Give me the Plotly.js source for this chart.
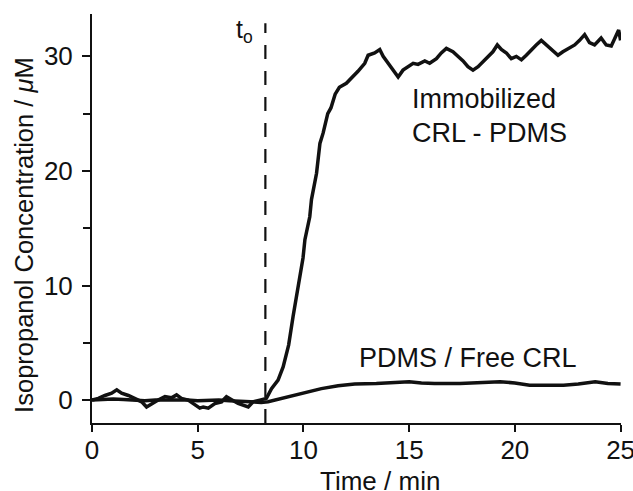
<!DOCTYPE html>
<html>
<head>
<meta charset="utf-8">
<script src="https://cdn.plot.ly/plotly-3.0.1.min.js"></script>
<style>html,body{margin:0;padding:0;background:#fff;}#chart{width:633px;height:491px;}</style>
</head>
<body>
<div id="chart"></div>
<script>
// Immobilized CRL - PDMS
const immTime = [0, 0.3, 0.61, 0.93, 1.17, 1.4, 1.72, 2.03, 2.35, 2.58, 2.82, 3.13, 3.45, 3.76, 4.0, 4.23, 4.55, 4.87, 5.1, 5.26, 5.5, 5.81, 6.13, 6.36, 6.6, 6.91, 7.39, 7.62, 7.94, 8.25,
  8.49, 8.8, 9.04, 9.3, 9.51, 9.75, 9.98, 10.07, 10.3, 10.38, 10.62, 10.78, 10.93, 11.15, 11.3, 11.5, 11.7, 12.03, 12.27, 12.58, 12.9, 13.06, 13.37, 13.61, 13.77, 14.0, 14.24, 14.48, 14.71, 14.95,
  15.19, 15.42, 15.74, 15.97, 16.29, 16.52, 16.76, 17.07, 17.31, 17.55, 17.78, 18.02, 18.26, 18.41, 18.73, 18.96, 19.17, 19.36, 19.6, 19.83, 20.07, 20.31, 20.54, 20.78, 21.01, 21.25, 21.49, 21.72,
  22.04, 22.27, 22.59, 22.83, 23.06, 23.3, 23.53, 23.77, 24.08, 24.32, 24.56, 24.72, 24.91, 25.0];
const immConc = [0, 0.15, 0.4, 0.6, 0.9, 0.6, 0.4, 0.1, -0.15, -0.6, -0.3, 0, 0.3, 0.2, 0.45, 0.15, 0, -0.45, -0.7, -0.6, -0.7, -0.3, -0.15, 0.3, 0, -0.3, -0.6, -0.15, 0, 0.15,
  1.0, 1.75, 2.9, 4.8, 7.3, 9.8, 12.4, 14.0, 16.0, 17.5, 19.8, 22.4, 23.3, 25.0, 25.5, 26.7, 27.3, 27.65, 28.1, 28.7, 29.4, 30.1, 30.3, 30.6, 30.0, 29.4, 28.7, 28.2, 28.8, 29.1,
  29.4, 29.3, 29.6, 29.4, 29.8, 30.3, 30.7, 30.4, 30.0, 29.6, 29.1, 28.8, 29.1, 29.4, 30.0, 30.4, 31.0, 30.6, 30.3, 29.8, 30.0, 29.7, 30.1, 30.6, 31.0, 31.4, 31.0, 30.6,
  30.1, 30.4, 30.7, 31.0, 31.4, 31.9, 31.2, 31.0, 31.6, 31.0, 30.9, 31.6, 32.3, 31.4];

// PDMS / Free CRL
const freeTime = [0, 0.5, 1, 1.5, 2, 2.5, 3, 3.5, 4, 4.5, 5, 5.5, 6, 6.5, 7, 7.5, 8, 8.33, 8.65, 9.28, 10.07, 10.85, 11.64, 12.43, 13.45, 14.0, 15.0, 15.58, 16.2, 17.4, 18.5, 19.3, 20.0, 20.7, 21.5, 22.3, 23.0, 23.8, 24.4, 25.0];
const freeConc = [0, 0.05, 0.1, 0.05, 0, -0.05, 0, 0, 0.05, 0, -0.05, 0, 0, -0.05, -0.1, -0.2, -0.2, -0.15, 0, 0.3, 0.7, 1.0, 1.25, 1.4, 1.45, 1.5, 1.6, 1.5, 1.45, 1.45, 1.55, 1.6, 1.5, 1.3, 1.3, 1.3, 1.4, 1.6, 1.45, 1.4];

const tZero = [8.2];
const xTicks = [0, 5, 10, 15, 20, 25];
const yTicks = [0, 10, 20, 30];
const labels = {
  imm1: 'Immobilized',
  imm2: 'CRL - PDMS',
  free: 'PDMS / Free CRL',
  t0: 't<sub>o</sub>',
  xTitle: 'Time / min',
  yTitle: 'Isopropanol Concentration / <i>μ</i>M'
};

const FONT = 'Liberation Sans, Arial, Helvetica, sans-serif';
const INK = '#111';

const traces = [
  {x: freeTime, y: freeConc, mode: 'lines', line: {color: INK, width: 3.5}, hoverinfo: 'skip'},
  {x: immTime, y: immConc, mode: 'lines', line: {color: INK, width: 3.5}, hoverinfo: 'skip'}
];

const axisCommon = {
  showline: true, linecolor: INK, linewidth: 2,
  ticks: 'outside', tickcolor: INK, tickwidth: 2,
  showgrid: false, zeroline: false, mirror: false,
  ticklabeloverflow: 'allow',
  tickfont: {family: FONT, size: 26, color: INK}
};

const layout = {
  width: 633, height: 491,
  margin: {l: 92, r: 12, t: 14, b: 68, pad: 0},
  paper_bgcolor: '#fff', plot_bgcolor: '#fff',
  showlegend: false,
  font: {family: FONT, color: INK},
  xaxis: Object.assign({}, axisCommon, {
    range: [0, 25.02], tickmode: 'array', tickvals: xTicks, ticktext: xTicks.map(String),
    ticklen: 7, ticklabelstandoff: -4
  }),
  yaxis: Object.assign({}, axisCommon, {
    range: [-2, 33.7], tickmode: 'array', tickvals: yTicks, ticktext: yTicks.map(String),
    ticklen: 8, ticklabelstandoff: 4,
    minor: {tickmode: 'array', tickvals: [5, 15, 25], ticks: 'outside', ticklen: 7, tickwidth: 2, tickcolor: INK}
  }),
  shapes: [{
    type: 'line', xref: 'x', yref: 'y', x0: tZero[0], x1: tZero[0], y0: -2, y1: 32.9,
    line: {color: INK, width: 2.2, dash: '14px,12px'}
  }],
  annotations: [
    {xref: 'x', yref: 'y', x: 15.03, y: 26.3, xanchor: 'left', yanchor: 'middle', text: labels.imm1, showarrow: false, font: {family: FONT, size: 27, color: INK}},
    {xref: 'x', yref: 'y', x: 15.03, y: 23.3, xanchor: 'left', yanchor: 'middle', text: labels.imm2, showarrow: false, font: {family: FONT, size: 27, color: INK}},
    {xref: 'x', yref: 'y', x: 17.8, y: 3.7, xanchor: 'center', yanchor: 'middle', text: labels.free, showarrow: false, font: {family: FONT, size: 27, color: INK}},
    {xref: 'x', yref: 'y', x: 7.2, y: 32.2, xanchor: 'center', yanchor: 'middle', text: labels.t0, showarrow: false, font: {family: FONT, size: 25, color: INK}},
    {xref: 'paper', yref: 'paper', x: 0.544, y: -0.141, xanchor: 'center', yanchor: 'middle', text: labels.xTitle, showarrow: false, font: {family: FONT, size: 26, color: INK}},
    {xref: 'paper', yref: 'paper', x: -0.1285, y: 0.46, xanchor: 'center', yanchor: 'middle', textangle: -90, text: labels.yTitle, showarrow: false, font: {family: FONT, size: 25.5, color: INK}}
  ]
};

Plotly.newPlot('chart', traces, layout, {staticPlot: true, displayModeBar: false});
</script>
</body>
</html>
